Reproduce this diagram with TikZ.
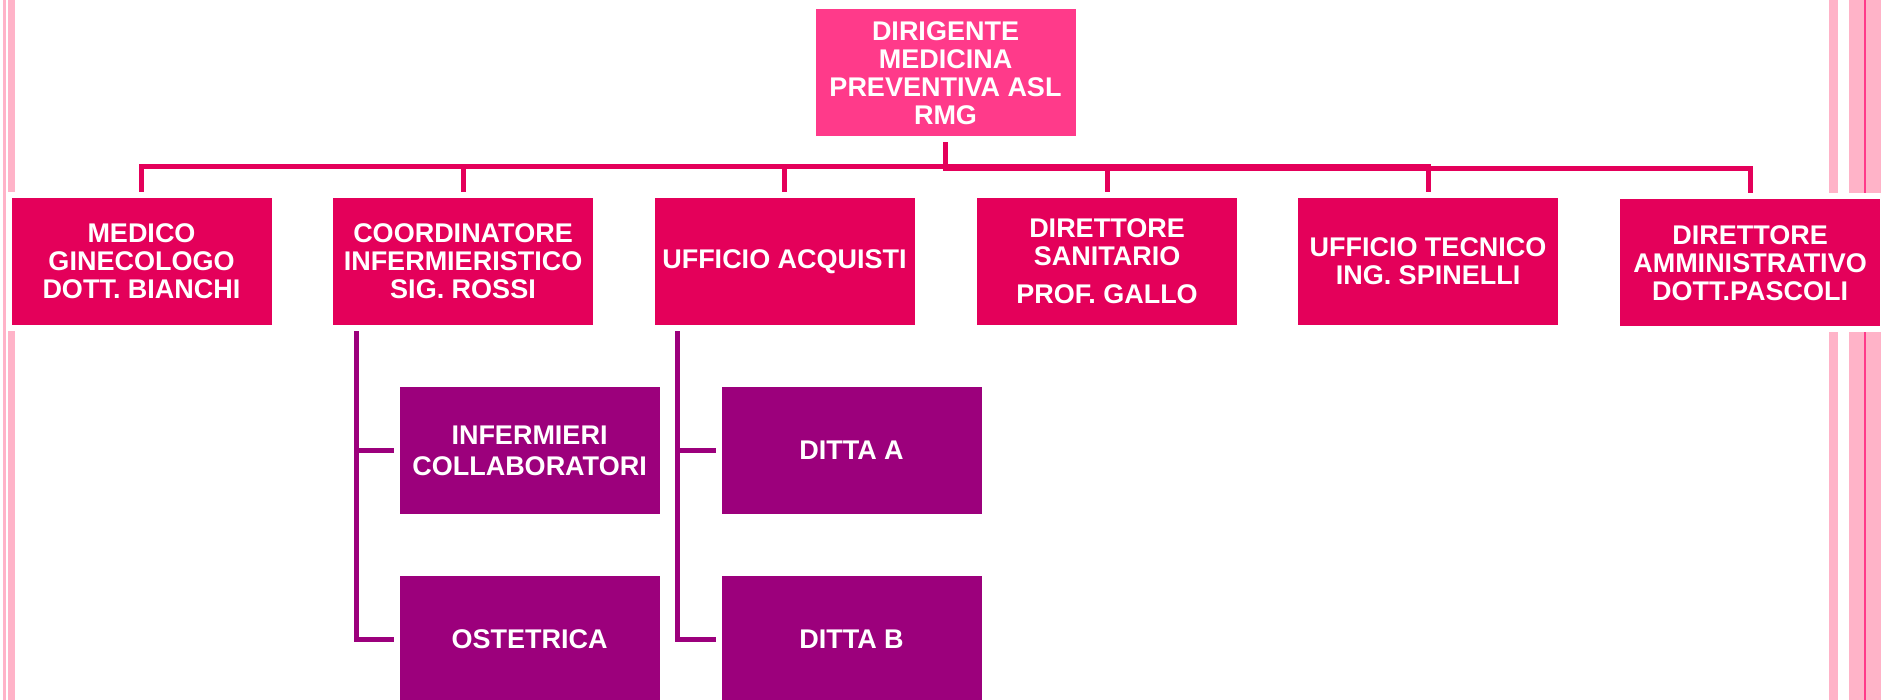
\documentclass[tikz,border=0pt]{standalone}
\usepackage{fontspec}
\setmainfont{Liberation Sans}
\usetikzlibrary{calc}
\pgfdeclarelayer{bg}
\pgfsetlayers{bg,main}
\definecolor{crimson}{HTML}{E4005A}
\definecolor{hotpink}{HTML}{FF3A8A}
\definecolor{plum}{HTML}{9C007C}
\definecolor{blush}{HTML}{FFB3C8}
\tikzset{
	halo/.style={preaction={draw=white,line width=6pt}},
	box/.style={halo,rectangle,fill=crimson,text=white,align=center,inner sep=0pt,
		minimum width=130pt,minimum height=63.5pt,font=\fontsize{13.5}{14}\selectfont\bfseries},
	topbox/.style={box,fill=hotpink},
	subbox/.style={box,fill=plum,font=\fontsize{13.5}{15.4}\selectfont\bfseries},
	link/.style={draw=crimson,line width=2.5pt},
	sublink/.style={draw=plum,line width=2.5pt}
}
\begin{document}
\begin{tikzpicture}[x=0.5pt,y=-0.5pt]
		\useasboundingbox (0,0) rectangle (1881,700);
		\node[topbox] (dir) at (945.5,73) {DIRIGENTE\\MEDICINA\\PREVENTIVA ASL\\RMG};
		\node[box] (med) at (141.5,261.5) {MEDICO\\GINECOLOGO\\DOTT. BIANCHI};
		\node[box] (coord) at (463,261.5) {COORDINATORE\\INFERMIERISTICO\\SIG. ROSSI};
		\node[box] (acq) at (784.5,261.5) {UFFICIO ACQUISTI};
		\node[box] (san) at (1107,261.5) {DIRETTORE\\SANITARIO\\[5pt]PROF. GALLO};
		\node[box] (tec) at (1428,261.5) {UFFICIO TECNICO\\ING. SPINELLI};
		\node[box] (amm) at (1750,263) {DIRETTORE\\AMMINISTRATIVO\\DOTT.PASCOLI};
		\node[subbox] (inf) at (529.5,450.5) {INFERMIERI\\COLLABORATORI};
		\node[subbox] (ost) at (529.5,639.5) {OSTETRICA};
		\node[subbox] (dittaA) at (851.5,450.5) {DITTA A};
		\node[subbox] (dittaB) at (851.5,639.5) {DITTA B};
		\coordinate (busA) at (945.5,166.5);
		\coordinate (busB) at (945.5,169);
		\coordinate (coordL) at ([xshift=11.75pt]coord.south west);
		\coordinate (acqL) at ([xshift=11.75pt]acq.south west);
		\begin{pgfonlayer}{bg}
			\fill[blush] (3,0) rectangle (6,700);
			\fill[blush] (8,0) rectangle (15,700);
			\fill[blush] (1829,0) rectangle (1838,700);
			\fill[blush] (1849,0) rectangle (1881,700);
			\fill[hotpink] (1864,0) rectangle (1866,700);
			\foreach \c in {med,coord,acq,tec}
				\draw[link] (dir.south) -- (busA) -| (\c.north);
			\foreach \c in {san,amm}
				\draw[link] (dir.south) -- (busB) -| (\c.north);
			\foreach \c in {inf,ost}
				\draw[sublink] (coordL) |- (\c.west);
			\foreach \c in {dittaA,dittaB}
				\draw[sublink] (acqL) |- (\c.west);
		\end{pgfonlayer}
	\end{tikzpicture}
\end{document}
